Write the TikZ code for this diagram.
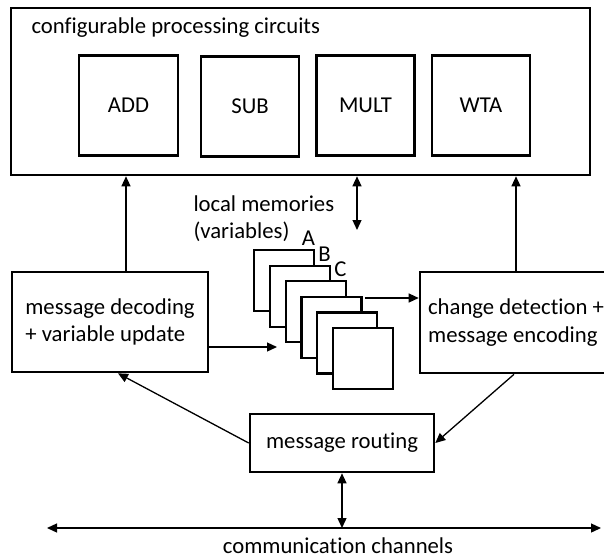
\documentclass[tikz,border=0pt]{standalone}
\usepackage{fontspec}
\setmainfont{Carlito}[Ligatures={NoCommon,NoRequired,NoContextual}]
\usetikzlibrary{arrows.meta}

\tikzset{
  blk/.style={draw, line width=2.6pt, fill=white, inner sep=0pt},
  mem/.style={draw, line width=2.1pt, fill=white, minimum width=60pt, minimum height=61pt, inner sep=0pt},
  arr/.style={-{Triangle[length=10pt,width=9pt]}, line width=1.3pt},
  dblarr/.style={{Triangle[length=10pt,width=9pt]}-{Triangle[length=10pt,width=9pt]}, line width=1.3pt},
}

\begin{document}
\begin{tikzpicture}[x=1pt, y=-1pt, font=\fontsize{22.7}{27.2}\selectfont]
  \useasboundingbox (0,0) rectangle (604,557);
  \clip (0,0) rectangle (604,557);

  % processing circuits
  \node[blk, minimum width=579pt, minimum height=167pt] (cpc) at (300.5,91.5) {};
  \node[anchor=west] (cpctitle) at (28,28) {configurable processing circuits};
  \node[blk, minimum width=99pt, minimum height=100pt] (add) at (128.5,105.5) {ADD};
  \node[blk, minimum width=98pt, minimum height=100pt] (sub) at (250,106.5) {SUB};
  \node[blk, minimum width=98pt, minimum height=100pt] (mult) at (365.5,105.5) {MULT};
  \node[blk, minimum width=98pt, minimum height=100pt] (wta) at (481,105.5) {WTA};

  % decoding, encoding, routing
  \node[blk, minimum width=196pt, minimum height=100pt, align=left] (dec) at (110,322)
    {message decoding\\+ variable update};
  \node[blk, minimum width=192pt, minimum height=101pt, align=left] (enc) at (516,322.5)
    {change detection +\\message encoding};
  \node[blk, minimum width=184pt, minimum height=58pt] (route) at (342,443) {message routing};

  % local memories
  \node[anchor=west, align=left] (memlbl) at (190,219) {local memories\\(variables)};
  \foreach \i in {1,...,6}
    \node[mem, anchor=north west] (mem\i) at ({253+15.8*(\i-1)},{249+15.6*(\i-1)}) {};
  \node[anchor=south east, inner sep=0pt] (varA) at ([yshift=3pt]mem1.north east) {A};
  \node[anchor=south east, inner sep=0pt] (varB) at ([yshift=3pt]mem2.north east) {B};
  \node[anchor=south east, inner sep=0pt] (varC) at ([yshift=3pt]mem3.north east) {C};

  \coordinate (decup) at ([xshift=16pt]dec.north);
  \coordinate (memtop) at (357,230);
  \coordinate (memin) at (277,347);
  \coordinate (memout) at (365,298);
  \coordinate (busL) at (47,528);
  \coordinate (busR) at (601,528);

  \draw[arr] (decup) -- (decup |- cpc.south);
  \draw[dblarr] (memtop |- cpc.south) -- (memtop);
  \draw[arr] (enc.north) -- (enc.north |- cpc.south);
  \draw[arr] (dec.east |- memin) -- (memin);
  \draw[arr] (memout) -- (memout -| enc.west);
  \draw[arr] (route.west) -- ([xshift=8pt]dec.south);
  \draw[arr] ([xshift=-2pt]enc.south) -- (route.east);
  \draw[dblarr] (route.south) -- (route.south |- busL);

  % channels
  \draw[dblarr] (busL) -- (busR);
  \node[inner sep=0pt] (comm) at (338,546) {communication channels};
\end{tikzpicture}
\end{document}
